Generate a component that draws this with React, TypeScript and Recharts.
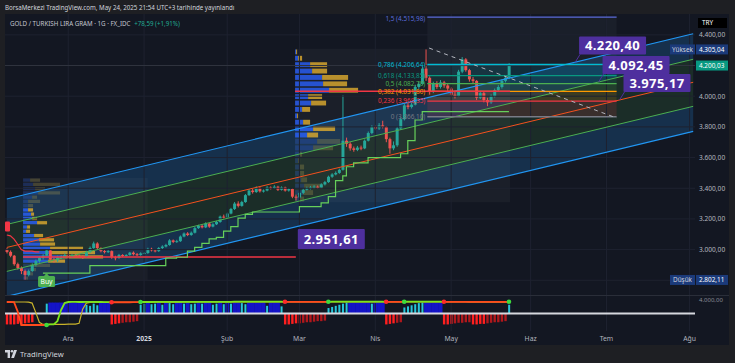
import React from 'react';
import {
  ComposedChart,
  Bar,
  Line,
  Area,
  XAxis,
  YAxis,
  ReferenceLine,
  ReferenceArea,
  ReferenceDot,
} from 'recharts';

// ---------- GOLD / TRY gram, 1G bars (7 Kas 2024 -> 23 May 2025) ----------
const firstOpen = 3000;
const closes = [
  2985, 2960, 2905, 2880, 2860, 2835, 2860, 2900, 2925, 2945,
  2960, 2995, 2935, 2930, 2950, 2955, 2965, 2950, 2965, 2960,
  2955, 2950, 2985, 3010, 3040, 3010, 2990, 2985, 2990, 2950,
  2945, 2965, 2960, 2965, 2980, 2970, 2965, 2975, 2978, 3005,
  2995, 2990, 3010, 3020, 3030, 3060, 3050, 3055, 3085, 3105,
  3095, 3110, 3140, 3155, 3145, 3170, 3150, 3165, 3180, 3215,
  3210, 3235, 3265, 3300, 3285, 3310, 3355, 3385, 3375, 3400,
  3380, 3385, 3405, 3400, 3410, 3390, 3405, 3385, 3395, 3345,
  3340, 3370, 3390, 3400, 3405, 3410, 3405, 3425, 3440, 3475,
  3490, 3500, 3520, 3710, 3690, 3660, 3650, 3665, 3660, 3710,
  3760, 3800, 3790, 3810, 3800, 3720, 3660, 3680, 3790, 3850,
  3940, 3930, 3945, 4060, 4080, 4180, 4120, 4030, 4080, 4060,
  4090, 4070, 4050, 4010, 4000, 4160, 4240, 4170, 4110, 4100,
  3990, 4020, 3975, 3960, 4000, 4040, 4060, 4100, 4120, 4200,
];
const highs = [
  3010, 2995, 2965, 2915, 2890, 2870, 2870, 2910, 2935, 2955,
  2970, 3005, 3000, 2945, 2960, 2965, 2975, 2970, 2972, 2975,
  2968, 2962, 2992, 3020, 3052, 3048, 3015, 2998, 3000, 2995,
  2960, 2972, 2970, 2970, 2985, 2988, 2978, 2982, 2984, 3012,
  3012, 3002, 3016, 3028, 3038, 3068, 3066, 3064, 3092, 3112,
  3114, 3118, 3148, 3162, 3164, 3178, 3176, 3172, 3188, 3222,
  3228, 3242, 3272, 3310, 3315, 3318, 3362, 3395, 3398, 3412,
  3408, 3392, 3414, 3412, 3420, 3416, 3412, 3410, 3402, 3400,
  3358, 3378, 3398, 3410, 3415, 3420, 3418, 3432, 3448, 3482,
  3498, 3510, 3528, 4005, 3730, 3700, 3672, 3676, 3678, 3718,
  3770, 3810, 3812, 3825, 3840, 3805, 3730, 3705, 3800, 3862,
  3952, 3960, 3960, 4075, 4095, 4195, 4305, 4130, 4095, 4098,
  4105, 4100, 4082, 4060, 4028, 4172, 4255, 4248, 4178, 4125,
  4105, 4035, 4028, 3990, 4012, 4050, 4072, 4110, 4132, 4215,
];
const lows = [
  2975, 2950, 2895, 2870, 2840, 2802, 2825, 2855, 2890, 2915,
  2935, 2955, 2925, 2915, 2920, 2940, 2945, 2940, 2945, 2950,
  2945, 2940, 2945, 2978, 3005, 3000, 2982, 2975, 2978, 2940,
  2930, 2940, 2952, 2955, 2960, 2962, 2958, 2960, 2970, 2972,
  2988, 2982, 2985, 3004, 3014, 3025, 3042, 3044, 3050, 3080,
  3088, 3090, 3105, 3135, 3138, 3140, 3142, 3145, 3160, 3175,
  3200, 3205, 3230, 3258, 3275, 3280, 3305, 3350, 3365, 3370,
  3372, 3372, 3380, 3392, 3395, 3382, 3385, 3378, 3378, 3335,
  3320, 3335, 3362, 3385, 3392, 3396, 3396, 3400, 3418, 3435,
  3468, 3484, 3494, 3515, 3670, 3645, 3638, 3642, 3648, 3655,
  3705, 3752, 3778, 3780, 3790, 3700, 3625, 3648, 3670, 3780,
  3842, 3915, 3920, 3940, 4048, 4075, 4100, 4010, 4020, 4048,
  4050, 4055, 4035, 3995, 3985, 3995, 4150, 4160, 4095, 4085,
  3975, 3982, 3960, 3935, 3950, 3992, 4030, 4050, 4090, 4112,
];

const TOTAL_SLOTS = 191; // bars + empty future slots up to Ağustos
const monthTickIdx = [17, 38, 61, 81, 102, 123, 145, 166, 189];
const monthTickLabels = ['Ara', '2025', 'Şub', 'Mar', 'Nis', 'May', 'Haz', 'Tem', 'Ağu'];
const priceTicks = [3000, 3200, 3400, 3600, 3800, 4000, 4400];
const gridPrices = [2800, 3000, 3200, 3400, 3600, 3800, 4000, 4200, 4400];
const lastPrice = 4200.03;
const highPrice = 4305.04;
const lowPrice = 2802.11;

// regression channel: outer up, inner up, mid, inner low, outer low — at slot 0 and last slot
const channelAtStart = [3330, 3164, 3014, 2858, 2695];
const channelAtEnd = [4407, 4241, 4091, 3934, 3771];
const channelLabelIdx = [157.3, 163.8, 169.6];
const channelLabelVals = [4220.4, 4092.45, 3975.17];

// trailing stop
const trailBearVal = [3095, 3090, 3068, 3035, 3000, 2990, 2990, 2990, 2985, 2985];
const trailStepIdx = [10, 23, 44, 47, 50, 52, 54, 56, 58, 60, 62, 64, 66, 68, 81, 87, 89, 91, 93, 94, 96, 100, 109, 111, 113, 115, 139];
const trailStepVal = [2847, 2895, 2945, 2950, 2990, 3015, 3040, 3070, 3080, 3120, 3150, 3205, 3230, 3245, 3280, 3305, 3345, 3450, 3480, 3540, 3565, 3600, 3625, 3710, 3845, 3899, 3899];
const buyIdx = 11;

// fixed range volume profiles
const leftVpTop = 3467;
const leftVpRow = 27.8;
const leftVpStart = 4.5;
const leftVpUp = [7, 10, 12, 15, 9, 5, 5, 5, 8, 9, 14, 4, 3, 11, 16, 17, 27, 27, 40, 25, 7, 7, 5, 3];
const leftVpDown = [10, 27, 10, 22, 5, 12, 5, 5, 3, 5, 10, 3, 4, 9, 15, 15, 33, 45, 40, 17, 20, 6, 5, 2];
const leftVpValueArea = [7, 19];
const leftVpPoc = 2951.61;

const midVpTop = 4310;
const midVpRow = 41.7;
const midVpStart = 79.8;
const midVpEnd = 139.3;
const midVpUp = [1, 3, 15, 17, 27, 28, 34, 13, 16, 7, 2, 8, 18, 12, 22, 18, 4, 3, 4, 5, 6, 9, 8, 4];
const midVpDown = [1, 4, 17, 15, 26, 24, 29, 14, 15, 8, 1, 7, 22, 11, 23, 20, 3, 2, 5, 4, 6, 19, 10, 5];
const midVpValueArea = [0, 13];
const midVpPoc = 4031.8;

// fib retracement
const fibRatios = ['1,5', '0,786', '0,618', '0,5', '0,382', '0,236', '0'];
const fibPrices = [4515.98, 4206.64, 4133.85, 4082.7, 4031.8, 3968.35, 3866.1];
const fibColors = ['#5b6bd9', '#00bcd4', '#089981', '#4caf50', '#ff9800', '#f23645', '#787b86'];
const fibFillColors = ['#787b86', '#00bcd4', '#089981', '#4caf50', '#ff9800', '#f23645'];
const fibStartIdx = 116.4;
const fibEndIdx = 168.8;
const trendFrom = { i: 116.9, p: 4314 };
const trendTo = { i: 168.8, p: 3858 };

// lower oscillator pane
const hist = [
  -1, -1, -1, -0.95, -1, -0.9, -0.85, -0.8, 0, 0,
  0, 0.9, 1, 1, 1, 1, 1, 1, 1, 1,
  1, 1, 0.8, 0.7, 0.9, 0.75, 1, 1, 1, -1,
  -0.95, -0.9, -0.85, -0.8, -0.8, -0.75, -0.7, 0.8, 0.9, 1,
  0.85, 0.9, 1, 0.8, 1, 0.95, 0.85, 1, 1, 0.9,
  1, 0.85, 0.9, 1, 0.9, 1, 1, 0.8, 0.9, 1,
  0.85, 1, 0.9, 1, 1, 0.95, 0.85, 1, 1, 1,
  1, 1, 0.7, 1, 1, 1, 0.65, -1, -1, -0.95,
  -0.9, -0.9, -0.85, -0.8, -0.8, -0.75, -0.7, -0.7, -0.65, 0.5,
  0.6, 0.7, 0.8, 0.9, 1, 1, 1, 1, 1, 1,
  1, 0.9, 1, 1, 1, -1, -0.95, -0.9, -0.85, -0.8,
  0.55, 0.65, 0.75, 0.85, 0.95, 1, 1, 1, 1, 1,
  1, -1, -1, -0.95, -0.9, -0.85, -0.85, -0.8, -0.8, -1,
  -1, -0.95, -0.95, -0.9, -0.85, -0.8, -0.8, -0.75, -0.7, 0.8,
];
const histCodes =
  'RRRRRRRR..' + '.cbbbbbbbb' + 'bbccccbbbR' + 'RRrrrrrccb' + 'ccbcbccbbc' +
  'bccbcbbccb' + 'cbcbbccbbb' + 'bbcbbbcRRR' + 'Rrrrrrrrrc' + 'cccccbbbbb' +
  'bcbbbRRRrr' + 'ccccccbbbb' + 'bRRRrrrrrR' + 'RRRrrrrrrc';
const fast = [
  1.05, 1.05, 1.04, 0.2, -1.05, -1.05, -1.05, -1.05, -1.05, -1.05,
  -1.05, -1.05, -1.0, -1.0, -0.7, 0.3, 0.95, 1.05, 1.06, 1.06,
  1.05, 1.05, 1.06, 1.06, 1.06, 1.05, 1.05, 1.04, 1.04, 1.03,
  1.03, 1.03, 1.03, 1.03, 1.03, 1.04, 1.04, 1.05, 1.05, 1.05,
  1.05, 1.06, 1.06, 1.06, 1.06, 1.06, 1.06, 1.06, 1.06, 1.07,
  1.07, 1.07, 1.07, 1.07, 1.07, 1.07, 1.07, 1.07, 1.07, 1.07,
  1.07, 1.07, 1.07, 1.08, 1.08, 1.08, 1.08, 1.08, 1.08, 1.08,
  1.08, 1.08, 1.08, 1.08, 1.08, 1.08, 1.08, 1.07, 1.07, 1.07,
  1.07, 1.07, 1.07, 1.07, 1.07, 1.07, 1.07, 1.07, 1.07, 1.07,
  1.08, 1.08, 1.08, 1.08, 1.08, 1.08, 1.08, 1.08, 1.08, 1.08,
  1.08, 1.08, 1.08, 1.08, 1.08, 1.07, 1.07, 1.07, 1.07, 1.07,
  1.08, 1.08, 1.08, 1.08, 1.08, 1.08, 1.08, 1.08, 1.08, 1.08,
  1.08, 1.07, 1.07, 1.07, 1.07, 1.07, 1.07, 1.06, 1.06, 1.06,
  1.06, 1.06, 1.06, 1.06, 1.06, 1.06, 1.06, 1.06, 1.06, 1.07,
];
const slow = [
  1.05, 1.05, 1.05, 1.05, 1.05, 1.05, 1.04, 0.95, 0.1, -0.8,
  -1.0, -1.0, -1.0, -0.99, -0.99, -0.99, -0.99, -0.98, -0.98, -0.97,
  -0.9, 0.4, 0.95, 1.02, 1.03, 1.03, 1.03, 1.03, 1.02, 1.02,
  1.02, 1.02, 1.02, 1.02, 1.02, 1.03, 1.03, 1.03, 1.03, 1.03,
  1.03, 1.04, 1.04, 1.04, 1.04, 1.04, 1.04, 1.04, 1.04, 1.05,
  1.05, 1.05, 1.05, 1.05, 1.05, 1.05, 1.05, 1.05, 1.05, 1.05,
  1.05, 1.05, 1.05, 1.06, 1.06, 1.06, 1.06, 1.06, 1.06, 1.06,
  1.06, 1.06, 1.06, 1.06, 1.06, 1.06, 1.06, 1.06, 1.05, 1.05,
  1.05, 1.05, 1.05, 1.05, 1.05, 1.05, 1.05, 1.05, 1.05, 1.05,
  1.06, 1.06, 1.06, 1.06, 1.06, 1.06, 1.06, 1.06, 1.06, 1.06,
  1.06, 1.06, 1.06, 1.06, 1.06, 1.06, 1.05, 1.05, 1.05, 1.05,
  1.06, 1.06, 1.06, 1.06, 1.06, 1.06, 1.06, 1.06, 1.06, 1.06,
  1.06, 1.06, 1.05, 1.05, 1.05, 1.05, 1.05, 1.05, 1.04, 1.04,
  1.04, 1.04, 1.04, 1.04, 1.04, 1.04, 1.04, 1.04, 1.04, 1.05,
];
const switchIdx = [11, 29, 37, 77, 89, 105, 110, 121, 139];
const switchBull = [true, false, true, false, true, false, true, false, true];

// ---------- styling ----------
const FONT = '"Noto Sans", "Liberation Sans", sans-serif';
const UP = '#26a69a';
const DOWN = '#ef5350';
const GRID = '#1e2230';
const AXIS_TEXT = '#b2b5be';
const PURPLE = '#4e2f9e';
const PRICE_MIN = 2704;
const PRICE_MAX = 4536;
const SLOT_PX = 690 / TOTAL_SLOTS;

function trNum(v: number, d = 2) {
  const [a, b] = v.toFixed(d).split('.');
  return a.replace(/\B(?=(\d{3})+(?!\d))/g, '.') + (b ? ',' + b : '');
}

const mainRows = Array.from({ length: TOTAL_SLOTS }, (_, i) => {
  const row: any = { i };
  if (i < closes.length) {
    row.o = i === 0 ? firstOpen : closes[i - 1];
    row.c = closes[i];
    row.h = highs[i];
    row.l = lows[i];
    row.range = [lows[i], highs[i]];
  }
  const ch = i === 0 ? channelAtStart : i === TOTAL_SLOTS - 1 ? channelAtEnd : null;
  if (ch) {
    row.chU = ch[0];
    row.chUi = ch[1];
    row.chM = ch[2];
    row.chLi = ch[3];
    row.chL = ch[4];
    row.bandUp = [ch[1], ch[0]];
    row.bandMid = [ch[3], ch[1]];
    row.bandLow = [ch[4], ch[3]];
  }
  if (i < trailBearVal.length) row.trailBear = trailBearVal[i];
  const s = trailStepIdx.indexOf(i);
  if (s >= 0) row.trailBull = trailStepVal[s];
  return row;
});

function isBullAt(i: number) {
  let bull = false;
  switchIdx.forEach((s, k) => {
    if (s <= i) bull = switchBull[k];
  });
  return bull;
}

const lowRows = Array.from({ length: TOTAL_SLOTS }, (_, i) => {
  const row: any = { i };
  if (i < hist.length) {
    row.h = hist[i];
    row.code = histCodes[i];
    row.slow = slow[i];
    const atSwitch = switchIdx.includes(i);
    const bull = isBullAt(i);
    row.fastBull = bull || atSwitch ? fast[i] : null;
    row.fastBear = !bull || atSwitch ? fast[i] : null;
  }
  return row;
});

function Candle(props: any) {
  const { x, y, width, height, payload } = props;
  if (!payload || payload.o == null) return null;
  const { o, h, l, c } = payload;
  const top = Math.min(y, y + height);
  const hh = Math.abs(height);
  const k = h > l ? hh / (h - l) : 0;
  const yOf = (v: number) => top + (h - v) * k;
  const cx = x + width / 2;
  const col = c >= o ? UP : DOWN;
  const bw = Math.max(1, width * 0.74);
  const bt = yOf(Math.max(o, c));
  const bb = yOf(Math.min(o, c));
  return (
    <g>
      <line x1={cx} x2={cx} y1={top} y2={top + hh} stroke={col} strokeWidth={1} />
      <rect x={cx - bw / 2} y={bt} width={bw} height={Math.max(1, bb - bt)} fill={col} />
    </g>
  );
}

function HistBar(props: any) {
  const { x, y, width, height, payload } = props;
  if (!payload || !payload.h) return null;
  const code = payload.code;
  const top = Math.min(y, y + height);
  const hh = Math.abs(height);
  const colors: any = { b: '#1414c8', c: '#26c6da', R: '#ff1f1f', r: '#b0181c' };
  const w = code === 'b' ? width : code === 'c' ? width * 0.5 : width * 0.6;
  return <rect x={x + (width - w) / 2} y={top} width={w} height={hh} fill={colors[code]} />;
}

const PriceTick = (p: any) => (
  <text x={p.x} y={p.y} dy={2.4} textAnchor="start" fontSize={6.6} fill={AXIS_TEXT} fontFamily={FONT}>
    {trNum(p.payload.value)}
  </text>
);

const TimeTick = (p: any) => {
  const k = monthTickIdx.indexOf(p.payload.value);
  const label = monthTickLabels[k] ?? '';
  const bold = label === '2025';
  return (
    <text x={p.x} y={p.y} dy={9.5} textAnchor="middle" fontSize={6.8} fontFamily={FONT}
      fill={bold ? '#d1d4dc' : AXIS_TEXT} fontWeight={bold ? 700 : 400}>
      {label}
    </text>
  );
};

function vpAreas(key: string, top: number, rowP: number, start: number, up: number[], down: number[], va: number[]) {
  const out: any[] = [];
  up.forEach((u, k) => {
    const y2 = top - k * rowP - rowP * 0.12;
    const y1 = top - (k + 1) * rowP + rowP * 0.12;
    const inVa = k >= va[0] && k <= va[1];
    const xUp = start + u / SLOT_PX;
    const xDn = xUp + down[k] / SLOT_PX;
    out.push(
      <ReferenceArea key={key + 'u' + k} xAxisId="n" x1={start} x2={xUp} y1={y1} y2={y2}
        fill="#2962ff" fillOpacity={inVa ? 0.78 : 0.22} stroke="none" ifOverflow="visible" />,
      <ReferenceArea key={key + 'd' + k} xAxisId="n" x1={xUp} x2={xDn} y1={y1} y2={y2}
        fill={inVa ? '#e0ac2e' : '#a89a50'} fillOpacity={inVa ? 0.8 : 0.3} stroke="none" ifOverflow="visible" />,
    );
  });
  return out;
}

const labelBox = (text: string) => (p: any) => (
  <g>
    <line x1={p.cx} y1={p.cy} x2={p.cx + 5} y2={p.cy - 8} stroke={PURPLE} strokeWidth={1} />
    <rect x={p.cx + 4} y={p.cy - 26} width={67} height={18} fill={PURPLE} rx={1} />
    <text x={p.cx + 37.5} y={p.cy - 12.3} textAnchor="middle" fontSize={13} fontWeight={700}
      fill="#ffffff" fontFamily={FONT} letterSpacing={0.4}>
      {text}
    </text>
  </g>
);

const axisTag = (text: string, bg: string, side?: string) => (p: any) => (
  <g>
    {side ? (
      <>
        <rect x={p.cx - 25} y={p.cy - 5} width={25} height={10} fill={bg} />
        <text x={p.cx - 12.5} y={p.cy + 2.3} textAnchor="middle" fontSize={6.4} fill="#d1d4dc" fontFamily={FONT}>{side}</text>
      </>
    ) : null}
    <rect x={p.cx + 1} y={p.cy - 5} width={32} height={10} fill={bg} />
    <text x={p.cx + 4} y={p.cy + 2.3} textAnchor="start" fontSize={6.4} fill="#ffffff" fontFamily={FONT}>{text}</text>
  </g>
);

function MainChart() {
  const last = TOTAL_SLOTS - 0.5;
  return (
    <ComposedChart width={735} height={281} data={mainRows} margin={{ top: 0, right: 0, bottom: 0, left: 5 }}
      barCategoryGap={0} barGap={0} style={{ fontFamily: FONT }}>
      <XAxis dataKey="i" hide />
      <XAxis xAxisId="n" dataKey="i" type="number" domain={[-0.5, last]} hide allowDataOverflow />
      <YAxis orientation="right" width={40} domain={[PRICE_MIN, PRICE_MAX]} ticks={priceTicks} interval={0}
        allowDataOverflow axisLine={false} tickLine={false} tickSize={2} tickMargin={2} tick={PriceTick} />

      {gridPrices.map((p) => <ReferenceLine key={'g' + p} y={p} stroke={GRID} />)}
      {monthTickIdx.map((i) => <ReferenceLine key={'v' + i} xAxisId="n" x={i} stroke={GRID} />)}
      <ReferenceLine y={lastPrice} stroke="#30343f" />

      <Area dataKey="bandUp" connectNulls stroke="none" fill="#2196f3" fillOpacity={0.2} isAnimationActive={false} />
      <Area dataKey="bandMid" connectNulls stroke="none" fill="#4caf50" fillOpacity={0.15} isAnimationActive={false} />
      <Area dataKey="bandLow" connectNulls stroke="none" fill="#2196f3" fillOpacity={0.2} isAnimationActive={false} />
      <Line dataKey="chU" connectNulls stroke="#2196f3" strokeWidth={1.2} dot={false} activeDot={false} isAnimationActive={false} />
      <Line dataKey="chUi" connectNulls stroke="#4caf50" strokeWidth={1} dot={false} activeDot={false} isAnimationActive={false} />
      <Line dataKey="chM" connectNulls stroke="#f4511e" strokeWidth={1} dot={false} activeDot={false} isAnimationActive={false} />
      <Line dataKey="chLi" connectNulls stroke="#4caf50" strokeWidth={1} dot={false} activeDot={false} isAnimationActive={false} />
      <Line dataKey="chL" connectNulls stroke="#2196f3" strokeWidth={1.2} dot={false} activeDot={false} isAnimationActive={false} />

      {/* volume profile range boxes */}
      <ReferenceArea xAxisId="n" x1={midVpStart} x2={midVpEnd} y1={midVpTop - 24 * midVpRow} y2={midVpTop}
        fill="#ffffff" fillOpacity={0.035} stroke="none" />
      <ReferenceArea xAxisId="n" x1={leftVpStart} x2={39} y1={leftVpTop - 24 * leftVpRow} y2={leftVpTop}
        fill="#ffffff" fillOpacity={0.03} stroke="none" />

      {/* fib retracement */}
      {fibFillColors.map((col, k) => (
        <ReferenceArea key={'ff' + k} xAxisId="n" x1={fibStartIdx} x2={fibEndIdx} y1={fibPrices[k + 1]} y2={fibPrices[k]}
          fill={col} fillOpacity={k === 0 ? 0.08 : 0.14} stroke="none" />
      ))}

      <Bar dataKey="range" shape={Candle} isAnimationActive={false} />

      {vpAreas('L', leftVpTop, leftVpRow, leftVpStart, leftVpUp, leftVpDown, leftVpValueArea)}
      {vpAreas('M', midVpTop, midVpRow, midVpStart, midVpUp, midVpDown, midVpValueArea)}

      {fibPrices.map((p, k) => (
        <ReferenceLine key={'fl' + k} xAxisId="n" segment={[{ x: fibStartIdx, y: p }, { x: fibEndIdx, y: p }]}
          stroke={fibColors[k]} strokeWidth={1.3} />
      ))}
      <ReferenceLine xAxisId="n" segment={[{ x: leftVpStart, y: leftVpPoc }, { x: 80, y: leftVpPoc }]} stroke="#f23645" strokeWidth={1.5} />
      <ReferenceLine xAxisId="n" segment={[{ x: midVpStart, y: midVpPoc }, { x: midVpEnd, y: midVpPoc }]} stroke="#f23645" strokeWidth={1.5} />
      <ReferenceLine xAxisId="n" segment={[{ x: trendFrom.i, y: trendFrom.p }, { x: trendTo.i, y: trendTo.p }]}
        stroke="#b2b5be" strokeWidth={1} strokeDasharray="4 4" />

      <Line dataKey="trailBear" connectNulls stroke="#f23645" strokeWidth={1.2} dot={false} activeDot={false} isAnimationActive={false} />
      <Line dataKey="trailBull" type="stepAfter" connectNulls stroke="#66d05a" strokeWidth={1.2} dot={false} activeDot={false} isAnimationActive={false} />

      {fibPrices.map((p, k) => (
        <ReferenceDot key={'fx' + k} xAxisId="n" x={fibStartIdx} y={p} r={0}
          shape={(q: any) => (
            <text x={q.cx - 2} y={q.cy + (k === 0 ? 3.6 : 2.3)} textAnchor="end" fontSize={6.4} fill={fibColors[k]} fontFamily={FONT}>
              {fibRatios[k] + ' (' + trNum(p) + ')'}
            </text>
          )} />
      ))}

      {channelLabelVals.map((v, k) => (
        <ReferenceDot key={'cl' + k} xAxisId="n" x={channelLabelIdx[k]} y={v} r={0} shape={labelBox(trNum(v))} />
      ))}
      <ReferenceDot xAxisId="n" x={80} y={leftVpPoc} r={0}
        shape={(q: any) => (
          <g>
            <rect x={q.cx + 2} y={q.cy - 28} width={67} height={20} fill={PURPLE} rx={1} />
            <text x={q.cx + 35.5} y={q.cy - 13.3} textAnchor="middle" fontSize={13} fontWeight={700} fill="#fff"
              fontFamily={FONT} letterSpacing={0.4}>{trNum(leftVpPoc)}</text>
          </g>
        )} />

      <ReferenceDot xAxisId="n" x={buyIdx} y={trailStepVal[0]} r={0}
        shape={(q: any) => (
          <g>
            <path d={`M${q.cx - 2.5},${q.cy + 3} L${q.cx},${q.cy} L${q.cx + 2.5},${q.cy + 3} Z`} fill="#4caf50" />
            <rect x={q.cx - 8.5} y={q.cy + 3} width={17} height={11} rx={1.5} fill="#4caf50" />
            <text x={q.cx} y={q.cy + 11} textAnchor="middle" fontSize={6.8} fill="#fff" fontFamily={FONT}>Buy</text>
          </g>
        )} />
      <ReferenceDot xAxisId="n" x={-0.5} y={3150} r={0}
        shape={(q: any) => <rect x={q.cx} y={q.cy - 5} width={5} height={10} rx={1} fill="#f23645" />} />

      <ReferenceDot xAxisId="n" x={last} y={highPrice} r={0} shape={axisTag(trNum(highPrice), '#1b3a7a', 'Yüksek')} />
      <ReferenceDot xAxisId="n" x={last} y={lastPrice} r={0} shape={axisTag(trNum(lastPrice), '#089981')} />
      <ReferenceDot xAxisId="n" x={last} y={lowPrice} r={0} shape={axisTag(trNum(lowPrice), '#1b3a7a', 'Düşük')} />
    </ComposedChart>
  );
}

function LowerChart() {
  return (
    <ComposedChart width={735} height={49} data={lowRows} margin={{ top: 0, right: 0, bottom: 0, left: 5 }}
      barCategoryGap={0} barGap={0} style={{ fontFamily: FONT }}>
      <XAxis dataKey="i" ticks={monthTickIdx} interval={0} tick={TimeTick} tickLine={false} axisLine={false}
        tickSize={0} tickMargin={0} height={14} />
      <XAxis xAxisId="n" dataKey="i" type="number" domain={[-0.5, TOTAL_SLOTS - 0.5]} hide allowDataOverflow />
      <YAxis orientation="right" width={40} domain={[-1.6, 1.6]} allowDataOverflow tick={false} axisLine={false} tickLine={false} />
      {monthTickIdx.map((i) => <ReferenceLine key={'lv' + i} xAxisId="n" x={i} stroke={GRID} />)}
      <Bar dataKey="h" shape={HistBar} isAnimationActive={false} />
      <ReferenceLine y={0} stroke="#d6d8de" strokeWidth={2} />
      <Line dataKey="slow" stroke="#c9b32a" strokeWidth={1.2} dot={false} activeDot={false} isAnimationActive={false} />
      <Line dataKey="fastBear" stroke="#ff4a1c" strokeWidth={1.8} dot={false} activeDot={false} isAnimationActive={false} />
      <Line dataKey="fastBull" stroke="#7be51c" strokeWidth={1.8} dot={false} activeDot={false} isAnimationActive={false} />
      {switchIdx.map((s, k) => (
        <ReferenceDot key={'sd' + k} xAxisId="n" x={s} y={fast[s]} r={2.3}
          fill={switchBull[k] ? '#3ddc3d' : '#ff2a2a'} stroke="none" />
      ))}
    </ComposedChart>
  );
}

export default function App() {
  return (
    <div style={{ position: 'absolute', left: 0, top: 0, width: 735, height: 363, background: '#1e1f23',
      overflow: 'hidden', fontFamily: FONT }}>
      <div style={{ position: 'absolute', left: 5, top: 14, width: 724, height: 331, background: '#131722' }} />
      <div style={{ position: 'absolute', left: 5, top: 2.5, fontSize: 6.2, color: '#d1d4dc', whiteSpace: 'nowrap' }}>
        BorsaMerkezi TradingView.com, May 24, 2025 21:54 UTC+3 tarihinde yayınlandı
      </div>
      <div style={{ position: 'absolute', left: 0, top: 14 }}>
        <MainChart />
      </div>
      <div style={{ position: 'absolute', left: 10, top: 18.5, fontSize: 6.2, color: '#c3c6ce', whiteSpace: 'nowrap' }}>
        GOLD / TURKISH LIRA GRAM · 1G · FX_IDC <span style={{ color: '#22ab94', marginLeft: 2 }}>+78,59 (+1,91%)</span>
      </div>
      <div style={{ position: 'absolute', left: 698, top: 18, width: 29, height: 10, background: '#000',
        color: '#fff', fontSize: 6.4, lineHeight: '10px', paddingLeft: 4, boxSizing: 'border-box' }}>TRY</div>
      <div style={{ position: 'absolute', left: 5, top: 295, width: 724, height: 1, background: '#2a2e39' }} />
      <div style={{ position: 'absolute', left: 0, top: 296 }}>
        <LowerChart />
      </div>
      <div style={{ position: 'absolute', left: 699, top: 295.5, fontSize: 6, lineHeight: '8px', color: '#8a8d96',
        whiteSpace: 'nowrap' }}>4.000,00</div>
      <div style={{ position: 'absolute', left: 5, top: 349, display: 'flex', alignItems: 'center', gap: 3 }}>
        <svg width={12} height={8} viewBox="0 0 12 8">
          <path d="M0 0 H5 V8 H2.6 V2.4 H0 Z" fill="#d1d4dc" />
          <circle cx={7} cy={1.3} r={1.3} fill="#d1d4dc" />
          <path d="M9 0 H12 L9 8 H6.2 Z" fill="#d1d4dc" />
        </svg>
        <span style={{ fontSize: 7.6, color: '#d1d4dc' }}>TradingView</span>
      </div>
    </div>
  );
}
